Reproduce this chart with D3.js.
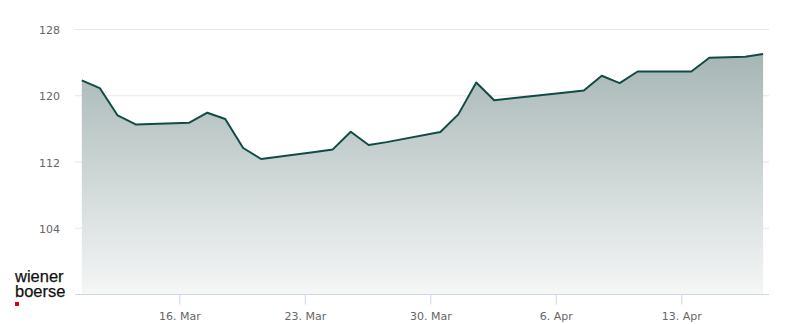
<!DOCTYPE html>
<meta charset="utf-8">
<style>
  body { margin: 0; background: #fff; }
  .tick text { font-family: "DejaVu Sans", sans-serif; font-size: 11px; fill: #666; }
  .logo { font-family: "Liberation Sans", Arial, sans-serif; font-size: 16.5px; fill: #111; stroke: #111; stroke-width: 0.25; }
</style>
<svg width="800" height="324"></svg>
<script src="https://d3js.org/d3.v7.min.js"></script>
<script>

// trading days (close prices)
var dates = ["2020-03-10","2020-03-11","2020-03-12","2020-03-13",
             "2020-03-16","2020-03-17","2020-03-18","2020-03-19","2020-03-20",
             "2020-03-23","2020-03-24","2020-03-25","2020-03-26","2020-03-27",
             "2020-03-30","2020-03-31","2020-04-01","2020-04-02","2020-04-03",
             "2020-04-06","2020-04-07","2020-04-08","2020-04-09","2020-04-10",
             "2020-04-13","2020-04-14","2020-04-15","2020-04-16","2020-04-17"];
var values = [121.85, 120.93, 117.62, 116.54,
              116.74, 117.95, 117.19, 113.69, 112.36,
              113.2, 113.52, 115.66, 114.05, 114.4,
              115.62, 117.75, 121.6, 119.46, 119.7,
              120.4, 120.64, 122.41, 121.53, 122.93,
              122.93, 124.58, 124.64, 124.7, 125.03];
var yTicks = [104, 112, 120, 128];
var xTicks = ["2020-03-16","2020-03-23","2020-03-30","2020-04-06","2020-04-13"];

var svg = d3.select("svg");
var parseDay = d3.utcParse("%Y-%m-%d");
var closeHours = 13.5;   // data stamped at midday-ish

var data = dates.map(function(d, i) {
  return { date: d3.utcMinute.offset(parseDay(d), closeHours * 60), value: values[i] };
});

var plotLeft = 75, plotRight = 769, plotBottom = 294;

var x = d3.scaleUtc()
    .domain([parseDay(xTicks[0]), parseDay(xTicks[4])])
    .range([179.3, 681.3]);

var y = d3.scaleLinear()
    .domain([96, 128])
    .range([294.5, 29.5]);

// gradient for area
var grad = svg.append("defs").append("linearGradient")
    .attr("id", "fillGrad")
    .attr("gradientUnits", "userSpaceOnUse")
    .attr("x1", 0).attr("x2", 0)
    .attr("y1", y(d3.max(values))).attr("y2", plotBottom);
grad.append("stop").attr("offset", "0%").attr("stop-color", "#a6b6b5");
grad.append("stop").attr("offset", "100%").attr("stop-color", "#f5f6f6");

// horizontal grid
svg.append("g")
  .selectAll("line")
  .data(yTicks)
  .enter().append("line")
    .attr("x1", plotLeft).attr("x2", plotRight)
    .attr("y1", function(d) { return y(d); })
    .attr("y2", function(d) { return y(d); })
    .attr("stroke", "#e6e6e6");

// y labels
svg.append("g")
    .attr("class", "tick")
  .selectAll("text")
  .data(yTicks)
  .enter().append("text")
    .attr("x", 60)
    .attr("y", function(d) { return y(d) + 4.5; })
    .attr("text-anchor", "end")
    .text(function(d) { return d; });

// area + line
var area = d3.area()
    .x(function(d) { return x(d.date); })
    .y0(plotBottom)
    .y1(function(d) { return y(d.value); });

var line = d3.line()
    .x(function(d) { return x(d.date); })
    .y(function(d) { return y(d.value); });

svg.append("path")
    .datum(data)
    .attr("fill", "url(#fillGrad)")
    .attr("d", area);

svg.append("path")
    .datum(data)
    .attr("fill", "none")
    .attr("stroke", "#124b46")
    .attr("stroke-width", 2)
    .attr("stroke-linejoin", "round")
    .attr("d", line);

// x axis
var fmt = d3.utcFormat("%-d. %b");
svg.append("g")
    .attr("transform", "translate(0," + (plotBottom + 0.5) + ")")
    .call(d3.axisBottom(x)
      .tickValues(xTicks.map(parseDay))
      .tickFormat(fmt)
      .tickSize(10)
      .tickPadding(8))
    .call(function(g) {
      g.select(".domain").remove();
      g.selectAll(".tick line").attr("stroke", "#ccd6eb");
    });

svg.append("line")
    .attr("x1", plotLeft).attr("x2", plotRight)
    .attr("y1", plotBottom + 0.5).attr("y2", plotBottom + 0.5)
    .attr("stroke", "#ccd6eb");

// logo (one text block, two lines)
var logo = svg.append("text").attr("class", "logo").attr("y", 282);
logo.append("tspan").attr("x", 15).text("wiener");
logo.append("tspan").attr("x", 15).attr("dy", 14.5).text("boerse");
svg.append("rect").attr("x", 15).attr("y", 302).attr("width", 4).attr("height", 4).attr("fill", "#d5001c");

</script>
